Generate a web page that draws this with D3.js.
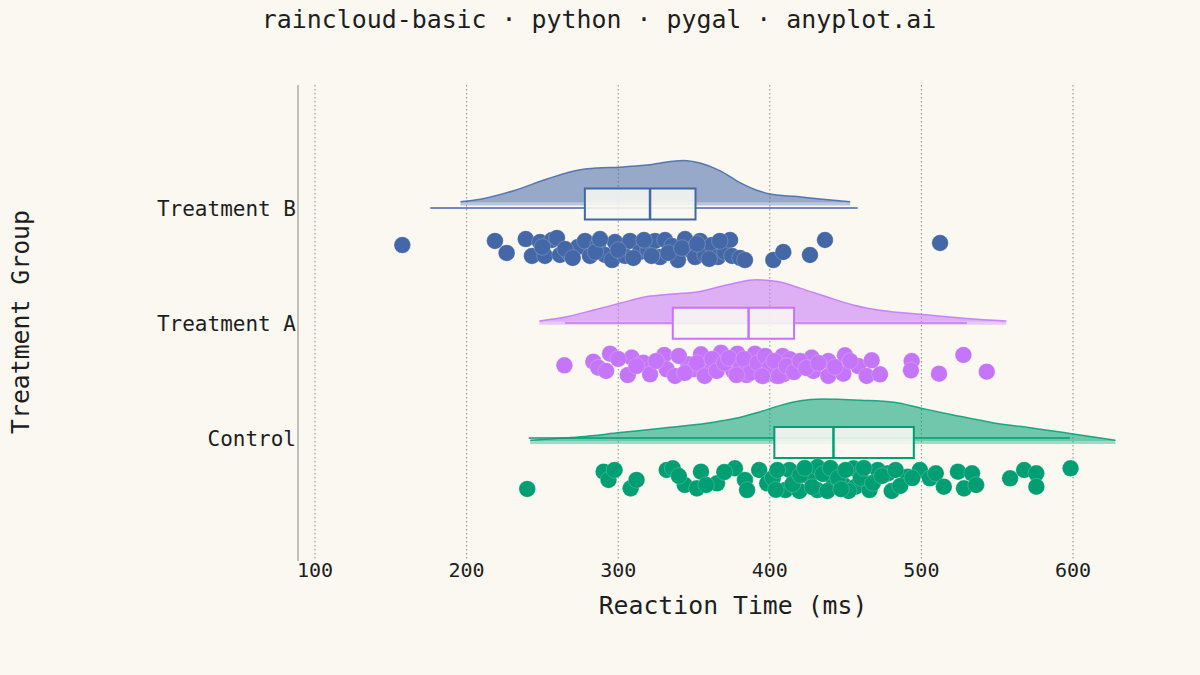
<!DOCTYPE html>
<html>
<head>
<meta charset="utf-8">
<script src="https://cdn.jsdelivr.net/npm/d3@7"></script>
<style>
  html, body { margin: 0; padding: 0; background: #FAF8F1; }
  svg { display: block; }
  text { font-family: "DejaVu Sans Mono", monospace; fill: #1e1e1e; }
</style>
</head>
<body>
<svg id="chart" width="1200" height="675"></svg>
<script>
// ---------------- data ----------------
const categories = ["Control", "Treatment A", "Treatment B"];
const colors = ["#009E73", "#C475F9", "#4467A8"];
const xTicks = [100, 200, 300, 400, 500, 600];

// box statistics: [whiskerLow, Q1, median, Q3, whiskerHigh]
const boxControl = [241, 403, 442, 495, 598];
const boxA = [265, 336, 386, 416, 530];
const boxB = [176, 278, 321, 351, 458];

// half-violin density profiles: value grid and relative height
const cloudControlX = [242, 275, 301, 333, 365, 380, 394, 408, 420, 434, 460, 482, 500, 521, 548, 575, 598, 628];
const cloudControlH = [0.02, 0.10, 0.20, 0.32, 0.46, 0.56, 0.70, 0.86, 0.96, 1.00, 0.97, 0.92, 0.78, 0.62, 0.43, 0.30, 0.18, 0.02];
const cloudAX = [248, 266, 284, 301, 319, 336, 354, 372, 391, 405, 420, 437, 455, 475, 499, 530, 556];
const cloudAH = [0.02, 0.12, 0.28, 0.44, 0.60, 0.66, 0.72, 0.88, 1.00, 0.96, 0.80, 0.60, 0.40, 0.26, 0.18, 0.08, 0.02];
const cloudBX = [196, 209, 231, 253, 275, 286, 301, 319, 336, 343, 354, 367, 380, 394, 400, 418, 435, 453];
const cloudBH = [0.02, 0.08, 0.28, 0.56, 0.78, 0.82, 0.84, 0.89, 0.98, 1.00, 0.94, 0.76, 0.48, 0.26, 0.20, 0.14, 0.08, 0.02];

// raw observations (ms) and their vertical jitter (-1 .. 1)
const rainControl = [240, 290.4, 293.6, 297.6, 308.2, 312.1, 332, 336, 343.9, 351.9, 354.6, 365.2, 377, 383.6, 385, 393, 398.3,
  410.3, 412.9, 419.5, 426.1, 431.4, 431.4, 442, 448.6, 455.2, 456.6, 465.8, 471.2, 477.8, 480.4, 491, 499, 505.6, 509.5,
  514.8, 524.1, 528.1, 533.4, 536.1, 558.5, 567.8, 575.8, 575.8, 598.4,
  402, 405, 415, 420, 423, 428, 435, 438, 440, 445, 450, 452, 460, 462, 468, 474, 483, 486, 494, 370, 358, 340, 404, 447];
const jitterControl = [0.83, -0.61, 0.08, -0.75, 0.78, 0.08, -0.75, -0.89, 0.5, 0.78, -0.61, 0.36, -0.89, 0.08, 0.92, -0.75, 0.36,
  0.92, -0.75, 1.0, -0.19, -1.0, 0.92, 0.08, 0.5, -0.89, 0.64, 0.92, -0.75, -0.47, 1.0, -0.19, -0.75, -0.06, -0.47,
  0.64, -0.61, 0.78, -0.47, 0.5, -0.06, -0.75, -0.47, 0.64, -0.89,
  -0.08, -0.75, 0.42, -0.33, -0.92, 0.67, -0.42, 1.0, -0.92, -0.08, -0.75, 1.0, -0.08, -0.92, 0.33, -0.25, -0.75, 0.58, -0.08, -0.58, 0.5, -0.25, 0.9, 0.85];

const rainA = [264.5, 283.6, 286.9, 294.6, 292, 306.3, 308.9, 316.6, 321, 330.4, 332, 337.5, 346.3, 349.6, 354.6, 359.4, 367.8,
  375.9, 378.6, 384.7, 390.2, 395.7, 404.5, 408.5, 413.3, 408.9, 427.6, 428.7, 438.6, 438.6, 449.6, 448.5, 458.4, 467.2,
  463.9, 472.7, 493.6, 493.1, 511.6, 527.7, 543.1,
  300, 312, 325, 340, 344, 352, 357, 362, 365, 370, 373, 381, 383, 387, 392, 397, 400, 403, 406, 411, 416, 420, 424, 432, 443, 453, 395, 378];
const jitterA = [0.11, -0.19, 0.31, -0.86, 0.58, 0.92, -0.53, -0.11, 0.86, -0.75, 0.44, 1.0, 0.03, 0.44, -0.81, 0.58, -0.94,
  0.58, -0.86, 0.92, -0.86, 1.0, 1.0, -0.67, -0.39, 0.86, -0.53, 0.58, -0.25, 1.0, -0.72, 0.81, 0.17, -0.31,
  1.0, 0.86, -0.25, 0.53, 0.81, -0.75, 0.64,
  -0.42, 0.17, -0.25, -0.67, 0.75, -0.08, 1.0, -0.42, 0.58, -0.08, -0.5, 0.25, -0.42, 0.75, -0.08, -0.67, 0.33, -0.25, 1.0, 0.17, 0.67, -0.25, 0.33, -0.08, 0.25, -0.25, 1.0, 0.92];

const rainB = [157.6, 218.7, 226.4, 239, 243.1, 248.4, 251.7, 256.3, 259.6, 261.6, 268.2, 273.5, 278.1, 281.4, 286.7, 291.3,
  295.9, 297.9, 304.5, 307.8, 314.4, 319.7, 324.3, 327.6, 330.9, 335.5, 339.4, 344.1, 347.4, 350.7, 354, 357.3, 361.9,
  365.8, 370.4, 373.8, 375.1, 380.4, 383.6, 402.3, 408.9, 426.5, 436.4, 512.3,
  265, 285, 300, 310, 317, 322, 333, 342, 352, 360, 367, 288, 270, 250];
const jitterB = [-0.33, -0.67, 0.33, -0.83, 0.58, -0.58, 0.58, -0.75, -0.92, 0.5, 0.42, -0.17, -0.67, 0.58, -0.33, 0.5,
  0.92, -0.58, 0.58, -0.67, 0.25, 0.08, -0.67, 0.67, -0.75, -0.25, 0.92, -0.83, 0.08, 0.67, -0.67, 0.5, -0.33,
  0.67, 0.25, -0.75, 0.58, 0.75, 0.92, 0.92, 0.25, 0.5, -0.75, -0.5,
  0.0, 0.25, 0.08, 0.75, -0.75, 0.58, 0.33, -0.08, -0.42, 0.83, -0.67, -0.83, 0.75, -0.17];

const titleText = "raincloud-basic · python · pygal · anyplot.ai";
const xTitle = "Reaction Time (ms)";
const yTitle = "Treatment Group";

// ---------------- build ----------------
const groups = [
  { name: categories[0], color: colors[0], box: boxControl, cx: cloudControlX, ch: cloudControlH, rain: rainControl, jit: jitterControl },
  { name: categories[1], color: colors[1], box: boxA, cx: cloudAX, ch: cloudAH, rain: rainA, jit: jitterA },
  { name: categories[2], color: colors[2], box: boxB, cx: cloudBX, ch: cloudBH, rain: rainB, jit: jitterB }
];

const svg = d3.select("#chart");
svg.append("rect").attr("width", 1200).attr("height", 675).attr("fill", "#FAF8F1");

const plotTop = 85, plotBottom = 561, plotLeft = 298;
const x = d3.scaleLinear().domain([100, 600]).range([315, 1073]);
const yCat = d3.scaleLinear().domain([0, 2]).range([438, 208]);      // labels, whiskers, rain
const yCloud = d3.scaleLinear().domain([0, 2]).range([441, 202.5]);  // cloud baselines, boxes
const hScale = d3.scaleLinear().domain([0, 1]).range([0, 42]);
const jScale = d3.scaleLinear().domain([-1, 1]).range([-12, 12]);
const rainOffset = 41;

// grid
const grid = svg.append("g");
grid.selectAll("line").data(xTicks).join("line")
  .attr("x1", d => x(d)).attr("x2", d => x(d))
  .attr("y1", plotTop).attr("y2", plotBottom)
  .attr("stroke", "#8a8a8a").attr("stroke-width", 1).attr("stroke-dasharray", "1.5,2.5");

// left axis line
svg.append("line").attr("x1", plotLeft).attr("x2", plotLeft)
  .attr("y1", plotTop).attr("y2", plotBottom)
  .attr("stroke", "#9a9a9a").attr("stroke-width", 1.2);

// x tick labels
svg.append("g").selectAll("text").data(xTicks).join("text")
  .attr("x", d => x(d)).attr("y", 577)
  .attr("text-anchor", "middle").attr("font-size", 20)
  .text(d => d);

// category labels
svg.append("g").selectAll("text").data(categories).join("text")
  .attr("x", 296).attr("y", (d, i) => yCat(i) + 7.5)
  .attr("text-anchor", "end").attr("font-size", 21)
  .text(d => d);

// titles
svg.append("text").attr("x", 599).attr("y", 28).attr("text-anchor", "middle")
  .attr("font-size", 24.9).text(titleText);
svg.append("text").attr("x", 733).attr("y", 614).attr("text-anchor", "middle")
  .attr("font-size", 24.8).text(xTitle);
svg.append("text").attr("transform", "translate(29,322) rotate(-90)").attr("text-anchor", "middle")
  .attr("font-size", 24.8).text(yTitle);

groups.forEach((g, i) => {
  const base = yCloud(i);
  const mid = yCat(i);
  const pts = g.cx.map((v, k) => [v, g.ch[k]]);
  const area = d3.area().curve(d3.curveMonotoneX)
    .x(d => x(d[0])).y0(base).y1(d => base - hScale(d[1]));
  const line = d3.line().curve(d3.curveMonotoneX)
    .x(d => x(d[0])).y(d => base - hScale(d[1]));

  const layer = svg.append("g");
  // cloud
  layer.append("path").attr("d", area(pts)).attr("fill", g.color).attr("fill-opacity", 0.55);
  layer.append("path").attr("d", line(pts)).attr("fill", "none").attr("stroke", g.color)
    .attr("stroke-width", 1.5).attr("stroke-opacity", 0.85);
  layer.append("line").attr("x1", x(pts[0][0])).attr("x2", x(pts[pts.length - 1][0]))
    .attr("y1", base + 1.5).attr("y2", base + 1.5)
    .attr("stroke", g.color).attr("stroke-opacity", 0.35).attr("stroke-width", 3);

  // whisker
  layer.append("line").attr("x1", x(g.box[0])).attr("x2", x(g.box[4]))
    .attr("y1", mid).attr("y2", mid)
    .attr("stroke", g.color).attr("stroke-width", 1.8).attr("stroke-opacity", 0.75);

  // box
  layer.append("rect").attr("x", x(g.box[1])).attr("y", base - 14)
    .attr("width", x(g.box[3]) - x(g.box[1])).attr("height", 31)
    .attr("fill", "#F8F7F2").attr("fill-opacity", 0.88)
    .attr("stroke", g.color).attr("stroke-width", 2);
  layer.append("line").attr("x1", x(g.box[2])).attr("x2", x(g.box[2]))
    .attr("y1", base - 14).attr("y2", base + 17)
    .attr("stroke", g.color).attr("stroke-width", 2.5);

  // rain
  layer.append("g").selectAll("circle").data(g.rain).join("circle")
    .attr("cx", d => x(d))
    .attr("cy", (d, k) => mid + rainOffset + jScale(g.jit[k]))
    .attr("r", 8.3)
    .attr("fill", g.color)
    .attr("stroke", "#FAF8F1").attr("stroke-width", 0.7).attr("stroke-opacity", 0.3);
});
</script>
</body>
</html>
